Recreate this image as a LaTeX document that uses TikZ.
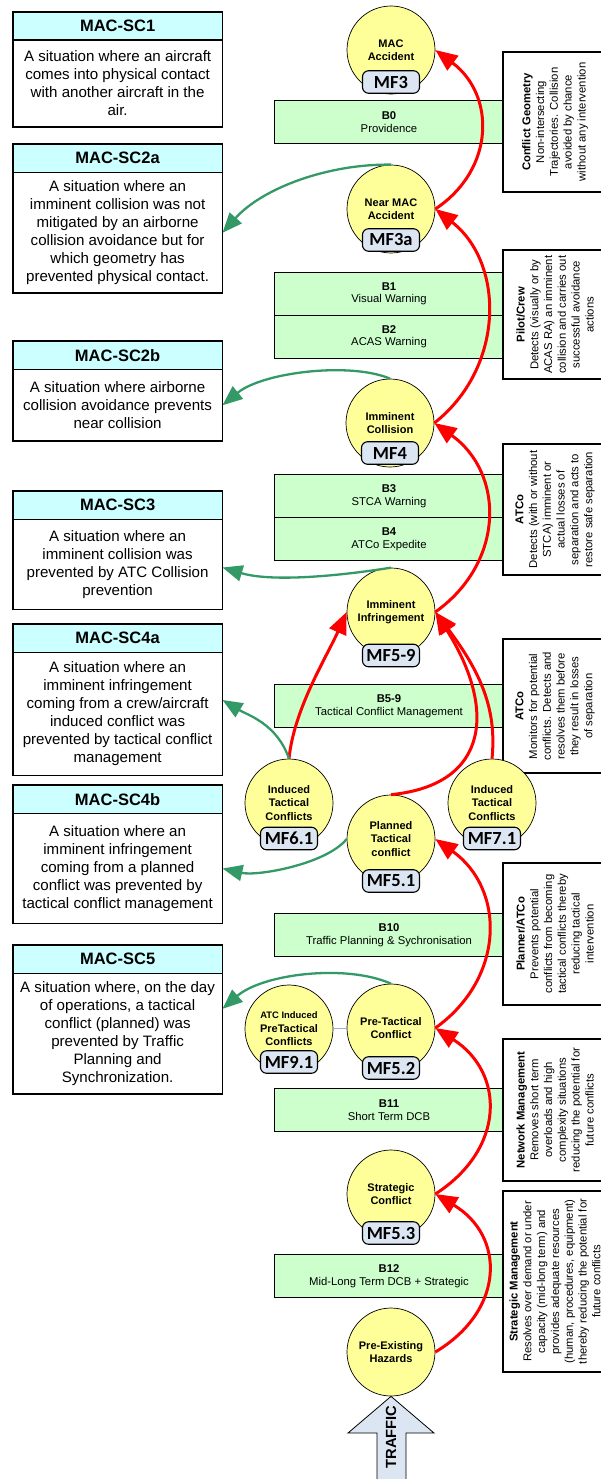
\documentclass[tikz,border=0pt]{standalone}
\usepackage{fontspec}
\setmainfont{Liberation Sans}
\newfontfamily\tagfont{Carlito}
\usetikzlibrary{positioning, arrows.meta}

\definecolor{headcyan}{HTML}{CCFFFF}
\definecolor{barriergreen}{HTML}{CCFFCC}
\definecolor{mfyellow}{HTML}{FFFF99}
\definecolor{tagblue}{HTML}{DCE6F2}
\definecolor{savegreen}{HTML}{339966}
\definecolor{linkblue}{HTML}{95B3D7}

\tikzset{
  schead/.style={draw, line width=1.8pt, fill=headcyan, outer sep=0pt, inner sep=0pt,
    minimum width=209.8pt, minimum height=28.5pt,
    font=\bfseries\fontsize{16.5}{18}\selectfont},
  scbody/.style={draw, line width=1.8pt, fill=white, outer sep=0pt, inner sep=0pt,
    minimum width=209.8pt, align=center, font=\fontsize{15.1}{18}\selectfont},
  barrier/.style={draw, line width=0.9pt, fill=barriergreen, inner sep=0pt,
    minimum width=230pt, minimum height=43pt, align=center,
    font=\fontsize{11.3}{12.6}\selectfont},
  actor/.style={draw, line width=1.8pt, fill=white, inner sep=0pt, minimum width=120pt},
  actortext/.style={rotate=90, inner sep=0pt, align=center,
    font=\fontsize{11.3}{13.8}\selectfont},
  mf/.style={circle, draw, line width=0.7pt, fill=mfyellow, minimum size=88pt,
    inner sep=0pt, align=center, font=\bfseries\fontsize{11}{13.5}\selectfont},
  mftag/.style={draw, line width=1.1pt, fill=tagblue, rounded corners=6pt,
    minimum width=57pt, minimum height=22.5pt, inner sep=0pt,
    font=\tagfont\bfseries\fontsize{18.5}{20}\selectfont},
  escalate/.style={draw=red, line width=3pt, -{Triangle[length=22pt,width=18pt]}},
  recover/.style={draw=savegreen, line width=2.3pt, -{Triangle[length=20pt,width=16pt]}},
}

\begin{document}
\begin{tikzpicture}[x=1pt, y=-1pt]
\useasboundingbox (0,0) rectangle (600,1479);

% barriers
\foreach \nm/\cy/\id/\what in {
    b0/122/B0/Providence,
    b1/293.9/B1/Visual Warning,
    b2/336.7/B2/ACAS Warning,
    b3/496.4/B3/STCA Warning,
    b4/539.2/B4/ATCo Expedite,
    b59/706.4/B5-9/Tactical Conflict Management,
    b10/935/B10/Traffic Planning \& Sychronisation,
    b11/1110/B11/Short Term DCB,
    b12/1276.2/B12/Mid-Long Term DCB + Strategic}
  \node[barrier] (\nm) at (389,\cy) {\textbf{\id}\\\what};

% who acts on each barrier (boxes run off the right edge)
\foreach \nm/\cy/\len/\txt in {
    cg/122/139.4/{\textbf{Conflict Geometry}\\Non-intersecting\\Trajectories. Collision\\avoided by chance\\without any intervention},
    crew/314.7/129.3/{\textbf{Pilot/Crew}\\Detects (visually or by\\ACAS RA) an imminent\\collision and carries out\\successful avoidance\\actions},
    atco/509.5/131/{\textbf{ATCo}\\Detects (with or without\\STCA) imminent or\\actual losses of\\separation and acts to\\restore safe separation},
    atcomon/706.3/134/{\textbf{ATCo}\\Monitors for potential\\conflicts. Detects and\\resolves them before\\they result in losses\\of separation},
    planner/933.9/142.3/{\textbf{Planner/ATCo}\\Prevents potential\\conflicts from becoming\\tactical conflicts thereby\\reducing tactical\\intervention},
    netman/1110/141.4/{\textbf{Network Management}\\Removes short term\\overloads and high\\complexity situations\\reducing the potential for\\future conflicts},
    stratman/1281.5/181.6/{\textbf{Strategic Management}\\Resolves over demand or under\\capacity (mid-long term) and\\provides adequate resources\\(human, procedures, equipment)\\thereby reducing the potential for\\future conflicts}}
{
  \node[actor, minimum height=\len pt] (\nm) at (563,\cy) {};
  \node[actortext] (\nm-txt) at (555,\cy) {\txt};
}

% scenario boxes
\foreach \nm/\ytop/\bh/\head/\desc in {
    sc1/11.7/86.7/MAC-SC1/{A situation where an aircraft\\comes into physical contact\\with another aircraft in the\\air.},
    sc2a/144/120.6/MAC-SC2a/{A situation where an\\imminent collision was not\\mitigated by an airborne\\collision avoidance but for\\which geometry has\\prevented physical contact.},
    sc2b/341/71.5/MAC-SC2b/{A situation where airborne\\collision avoidance prevents\\near collision},
    sc3/491/90/MAC-SC3/{A situation where an\\imminent collision was\\prevented by ATC Collision\\prevention},
    sc4a/624/123/MAC-SC4a/{A situation where an\\imminent infringement\\coming from a crew/aircraft\\induced conflict was\\prevented by tactical conflict\\management},
    sc4b/785/110/MAC-SC4b/{A situation where an\\imminent infringement\\coming from a planned\\conflict was prevented by\\tactical conflict management},
    sc5/945/120.7/MAC-SC5/{A situation where, on the day\\of operations, a tactical\\conflict (planned) was\\prevented by Traffic\\Planning and\\Synchronization.}}
{
  \node[schead, anchor=north] (\nm-h) at (117.6,\ytop) {\head};
  \node[scbody, minimum height=\bh pt, below=0pt of \nm-h] (\nm) {\desc};
}

% precursors with their MF tags
\foreach \nm/\cx/\cy/\txt/\tag/\ty in {
    acc/391/50/{MAC\\Accident}/MF3/82,
    near/391/209/{Near MAC\\Accident}/MF3a/240,
    col/390/423/{Imminent\\Collision}/MF4/453,
    inf/391/612/{Imminent\\Infringement}/MF5-9/655.5,
    indl/289/803/{Induced\\Tactical\\Conflicts}/MF6.1/838.5,
    indr/492/803/{Induced\\Tactical\\Conflicts}/MF7.1/838.5,
    plan/391/839/{Planned\\Tactical\\conflict}/MF5.1/881,
    pretac/391/1028/{Pre-Tactical\\Conflict}/MF5.2/1068,
    atc/289/1029/{\fontsize{9.4}{11.7}\selectfont ATC Induced\\PreTactical\\Conflicts}/MF9.1/1062,
    strat/391/1194/{Strategic\\Conflict}/MF5.3/1233}
{
  \node[mf] (\nm) at (\cx,\cy) {\txt};
  \node[mftag] (\nm-tag) at (\cx,\ty) {\tag};
}
\node[mf] (preex) at (391,1352) {Pre-Existing\\Hazards};

\draw[linkblue, line width=0.8pt] (atc) -- (pretac);

% traffic feeding in
\draw[fill=tagblue, line width=0.8pt] (preex.south) -- (434,1433) -- (406,1433)
  -- (406,1485) -- (377,1485) -- (377,1433) -- (348,1433) -- cycle;
\node[rotate=90, font=\bfseries\fontsize{14.7}{16}\selectfont] (traffic) at (391,1437) {TRAFFIC};

% escalation
\draw[escalate] (near.east) .. controls +(60,-40) and +(60,45) .. (acc.east);
\draw[escalate] (col.east) .. controls +(70,-55) and +(70,55) .. (near.east);
\draw[escalate] (inf.east) .. controls +(70,-50) and +(70,50) .. (col.east);
\draw[escalate] (indl.north) .. controls +(5,-50) and +(-20,45) .. (inf.west);
\draw[escalate] (plan.north) .. controls +(100,-10) and +(60,95) .. (inf.east);
\draw[escalate] (indr.north) .. controls +(5,-50) and +(45,60) .. (inf.east);
\draw[escalate] (pretac.east) .. controls +(70,-50) and +(70,50) .. (plan.east);
\draw[escalate] (strat.east) .. controls +(70,-45) and +(70,45) .. (pretac.east);
\draw[escalate] (preex.east) .. controls +(70,-42) and +(70,42) .. (strat.east);

% recovered scenarios
\draw[recover] (near.north) .. controls +(-62,-1) and +(40,-45) .. (sc2a.east);
\draw[recover] (col.north) .. controls +(-40,-17) and +(40,-33) .. (sc2b.east);
\draw[recover] (inf.north) .. controls +(-50,8) and +(50,15) .. ([yshift=-3pt]sc3.east);
\draw[recover] (indl.north) .. controls +(-12,-35) and +(25,15) .. ([yshift=14pt]sc4a.east);
\draw[recover] (plan.west) .. controls +(-20,25) and +(35,8) .. (sc4b.east);
\draw[recover] (pretac.north) .. controls +(-45,-20) and +(40,-35) .. ([yshift=25pt]sc5.east);

\end{tikzpicture}
\end{document}
